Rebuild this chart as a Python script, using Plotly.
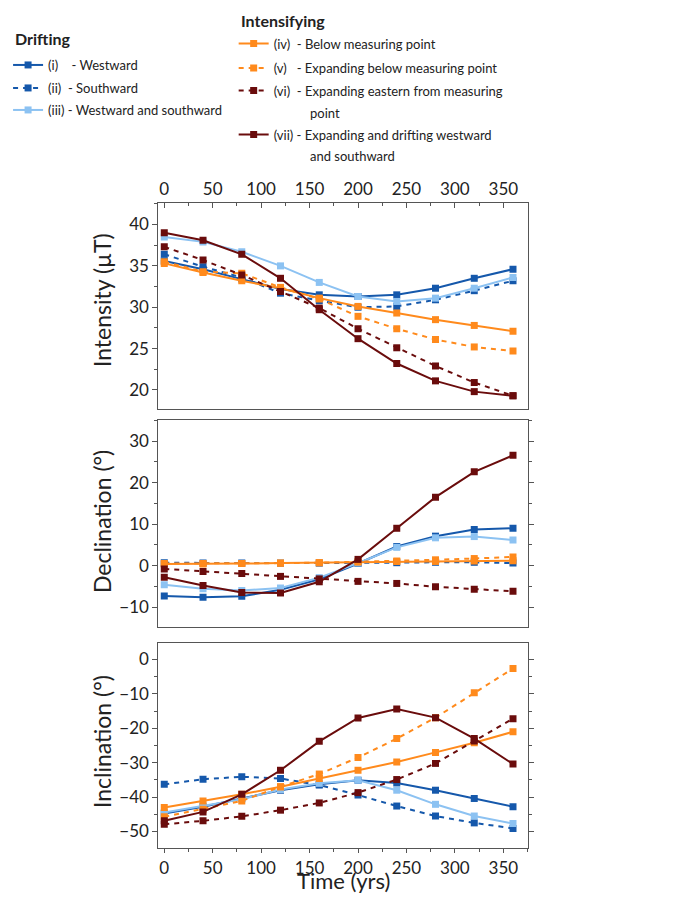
import plotly.graph_objects as go

time_yrs = [0, 40, 80, 120, 160, 200, 240, 280, 320, 360]

names = [
    "(i)&nbsp;&nbsp;&nbsp;&nbsp;- Westward",
    "(ii)&nbsp;&nbsp;- Southward",
    "(iii) - Westward and southward",
    "(iv)&nbsp;&nbsp;- Below measuring point",
    "(v)&nbsp;&nbsp;&nbsp;- Expanding below measuring point",
    "(vi)&nbsp;&nbsp;- Expanding eastern from measuring",
    "(vii) - Expanding and drifting westward",
]
name_continuations = ["", "", "", "", "", "point", "and southward"]
group_titles = ["Drifting", "Intensifying"]

intensity_i   = [35.6, 34.6, 33.4, 32.2, 31.5, 31.3, 31.5, 32.3, 33.5, 34.6]
intensity_ii  = [36.4, 34.9, 33.6, 31.7, 30.8, 30.0, 30.1, 30.9, 32.0, 33.2]
intensity_iii = [38.5, 37.9, 36.7, 35.0, 33.0, 31.3, 30.7, 31.1, 32.3, 33.6]
intensity_iv  = [35.3, 34.2, 33.2, 32.3, 31.1, 30.1, 29.3, 28.5, 27.8, 27.1]
intensity_v   = [35.5, 34.3, 34.1, 32.4, 31.0, 28.9, 27.4, 26.1, 25.2, 24.7]
intensity_vi  = [37.3, 35.7, 33.9, 31.9, 29.9, 27.4, 25.1, 22.9, 20.9, 19.3]
intensity_vii = [39.0, 38.1, 36.4, 33.5, 29.7, 26.2, 23.2, 21.1, 19.8, 19.3]

declination_i   = [-7.3, -7.6, -7.4, -5.8, -3.3, 0.5, 4.6, 7.1, 8.7, 9.0]
declination_ii  = [0.7, 0.6, 0.6, 0.6, 0.6, 0.7, 0.7, 0.8, 0.8, 0.6]
declination_iii = [-4.6, -5.6, -6.0, -5.4, -2.9, 0.6, 4.4, 6.7, 7.0, 6.2]
declination_iv  = [0.4, 0.4, 0.5, 0.6, 0.7, 0.9, 1.0, 1.0, 1.1, 1.2]
declination_v   = [0.5, 0.5, 0.5, 0.6, 0.7, 0.9, 1.1, 1.4, 1.7, 2.1]
declination_vi  = [-0.8, -1.4, -1.9, -2.6, -3.2, -3.8, -4.3, -5.1, -5.7, -6.2]
declination_vii = [-2.8, -4.8, -6.5, -6.6, -3.9, 1.5, 9.0, 16.5, 22.6, 26.6]

inclination_i   = [-44.8, -42.8, -40.4, -38.0, -36.3, -35.1, -35.9, -38.0, -40.4, -42.8]
inclination_ii  = [-36.3, -34.8, -34.1, -34.6, -36.5, -39.4, -42.6, -45.5, -47.5, -49.1]
inclination_iii = [-44.5, -42.5, -40.6, -37.8, -36.0, -35.1, -38.0, -42.1, -45.5, -47.7]
inclination_iv  = [-43.0, -41.1, -39.2, -37.0, -34.6, -32.2, -29.8, -27.0, -24.2, -21.0]
inclination_v   = [-45.7, -43.5, -41.1, -37.0, -33.3, -28.5, -23.0, -16.9, -9.7, -2.6]
inclination_vi  = [-47.9, -46.9, -45.6, -43.8, -41.7, -38.7, -34.9, -30.2, -23.7, -17.2]
inclination_vii = [-46.9, -44.3, -39.2, -32.2, -23.8, -17.0, -14.4, -16.9, -23.0, -30.4]

DBLUE = "#1558ab"
LBLUE = "#8cc2f2"
ORANGE = "#ff8a1c"
DRED = "#6a0c0c"

colors = [DBLUE, DBLUE, LBLUE, ORANGE, ORANGE, DRED, DRED]
dashes = ["solid", "5px,5px", "solid", "solid", "5px,5px", "5px,5px", "solid"]

# legend layout (page pixel positions): left x, centre y
legend_x = [1, 1, 1, 229, 229, 229, 229]
legend_y = [65, 88, 110, 43.5, 68, 90.5, 134.5]
cont_y = [None, None, None, None, None, 113, 156]

panels = [
    ("x", "y", [intensity_i, intensity_ii, intensity_iii, intensity_iv, intensity_v, intensity_vi, intensity_vii]),
    ("x2", "y2", [declination_i, declination_ii, declination_iii, declination_iv, declination_v, declination_vi, declination_vii]),
    ("x3", "y3", [inclination_i, inclination_ii, inclination_iii, inclination_iv, inclination_v, inclination_vi, inclination_vii]),
]

FONT = "Lato"
TXT = "#222222"
AX = "#555555"
# page is 679x905; html body has an 8px margin
OFF = 8
W, H = 679 - 2 * OFF, 905 - 2 * OFF


def px(xp):
    return (xp - OFF) / W


def py(yp):
    return 1 - (yp - OFF) / H


fig = go.Figure()
for p, (xax, yax, series) in enumerate(panels):
    for k, vals in enumerate(series):
        fig.add_trace(go.Scatter(
            x=time_yrs, y=vals, xaxis=xax, yaxis=yax,
            mode="lines+markers", name=names[k],
            line=dict(color=colors[k], width=2, dash=dashes[k]),
            marker=dict(symbol="square", size=7, color=colors[k]),
            showlegend=(p == 0), legend=("legend" if k == 0 else f"legend{k + 1}"),
        ))

legends = {}
for k in range(7):
    key = "legend" if k == 0 else f"legend{k + 1}"
    legends[key] = dict(
        x=px(legend_x[k]), y=py(legend_y[k]), xanchor="left", yanchor="middle",
        font=dict(family=FONT, size=13, color=TXT), bgcolor="rgba(0,0,0,0)",
        itemwidth=30, valign="middle",
    )

xdom = [px(153), px(526)]


def ydom(top_px, bot_px):
    return [py(bot_px), py(top_px)]


xcommon = dict(range=[-6, 375], domain=xdom, dtick=50, tick0=0, showgrid=False, automargin=False,
               zeroline=False, showline=True, linecolor=AX, linewidth=1.3, mirror=True,
               tickfont=dict(family=FONT, size=17, color=TXT), tickcolor=AX)
ycommon = dict(showgrid=False, zeroline=False, showline=True, linecolor=AX, linewidth=1.3,
               automargin=False, tickfont=dict(family=FONT, size=17, color=TXT), tickcolor=AX,
               ticks="outside", ticklen=5)

annotations = []
for txt, xp, yp in [(group_titles[0], 6, 39), (group_titles[1], 234, 20)]:
    annotations.append(dict(text=f"<b>{txt}</b>", x=px(xp), y=py(yp), xref="paper", yref="paper",
                            xanchor="left", yanchor="middle", showarrow=False,
                            font=dict(family=FONT, size=16, color=TXT)))
for k in range(7):
    if name_continuations[k]:
        annotations.append(dict(text=name_continuations[k], x=px(304), y=py(cont_y[k]),
                                xref="paper", yref="paper", xanchor="left", yanchor="middle",
                                showarrow=False, font=dict(family=FONT, size=13, color=TXT)))
for txt, yp in [("Intensity (µT)", 300), ("Declination (°)", 522), ("Inclination (°)", 742)]:
    annotations.append(dict(text=txt, x=px(96), y=py(yp), xref="paper", yref="paper",
                            xanchor="center", yanchor="middle",
                            textangle=-90, showarrow=False, font=dict(family=FONT, size=23, color=TXT)))
annotations.append(dict(text="Time (yrs)", x=px(339.5), y=py(896), xref="paper", yref="paper",
                        xanchor="center", yanchor="bottom",
                        showarrow=False, font=dict(family=FONT, size=22, color=TXT)))

fig.update_layout(
    width=W, height=H,
    margin=dict(l=0, r=0, t=0, b=0),
    paper_bgcolor="white", plot_bgcolor="white",
    xaxis=dict(xcommon, anchor="y", side="top", ticks="inside", ticklen=5,
               minor=dict(ticks="inside", ticklen=3, dtick=25, tickcolor=AX)),
    xaxis2=dict(xcommon, anchor="y2", showticklabels=False, ticks=""),
    xaxis3=dict(xcommon, anchor="y3", ticks="outside", ticklen=4,
                minor=dict(ticks="outside", ticklen=3, dtick=25, tickcolor=AX)),
    yaxis=dict(ycommon, domain=ydom(203, 409), range=[17.7, 42.6], dtick=5, tick0=0,
               mirror=True, minor=dict(ticks="outside", ticklen=3, dtick=2.5, tickcolor=AX)),
    yaxis2=dict(ycommon, domain=ydom(420, 627), range=[-14.8, 35.1], dtick=10, tick0=0,
                mirror="ticks", minor=dict(ticks="outside", ticklen=3, dtick=5, tickcolor=AX)),
    yaxis3=dict(ycommon, domain=ydom(643, 848), range=[-54.8, 4.8], dtick=10, tick0=0,
                mirror="ticks", minor=dict(ticks="outside", ticklen=3, dtick=5, tickcolor=AX)),
    annotations=annotations,
    **legends,
)

fig.write_html("out.html")
